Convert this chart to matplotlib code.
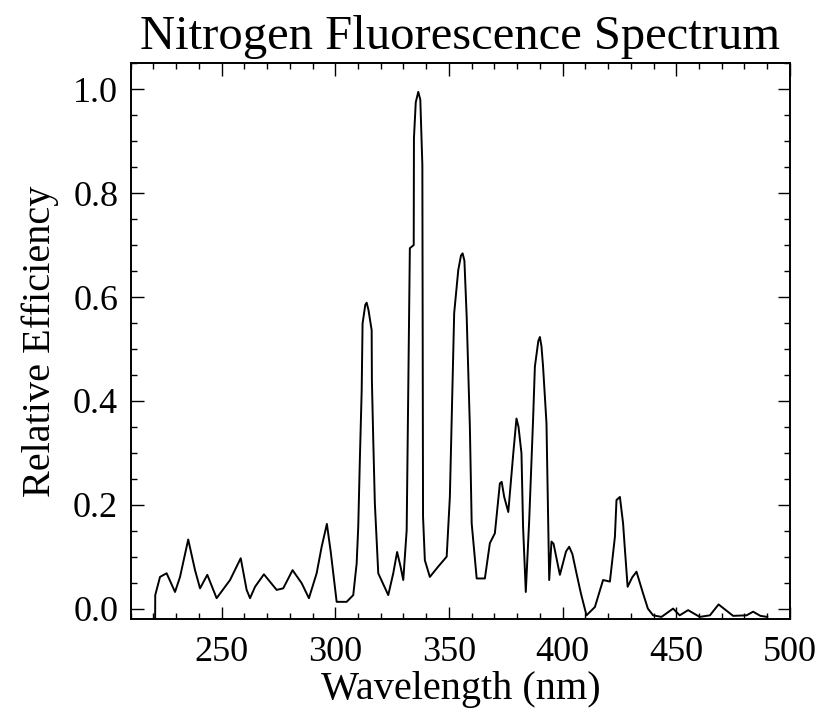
import matplotlib
matplotlib.use("Agg")
import matplotlib.pyplot as plt
from matplotlib.ticker import MultipleLocator

# values (wavelength in nm, relative efficiency)
wavelength = [
    220.7, 220.8, 222.9, 225.8, 229.5, 231.7, 235.3, 238.3, 240.5, 243.7,
    247.8, 253.7, 258.4, 261.0, 262.5, 264.7, 268.6, 274.2, 277.1, 281.2,
    285.2, 288.4, 291.8, 294.0, 296.3, 298.0, 300.6, 305.0, 307.9, 309.4,
    310.1, 310.8, 311.6, 312.0, 313.2, 313.8, 314.6, 316.0, 316.1, 316.7,
    317.4, 318.9, 323.3, 325.5, 327.2, 328.7, 329.9, 331.4, 332.1, 332.8,
    334.5, 334.6, 335.4, 336.5, 337.4, 338.3, 338.6, 339.4, 341.6, 345.3,
    349.0, 350.4, 351.9, 352.3, 354.1, 355.3, 356.0, 356.8, 357.8, 359.2,
    360.0, 362.2, 365.8, 368.0, 370.2, 372.4, 373.2, 374.3, 376.1, 378.3,
    379.7, 380.6, 381.9, 382.6, 383.8, 385.3, 387.0, 387.8, 389.3, 390.0,
    390.7, 391.4, 392.9, 393.6, 394.1, 395.1, 396.0, 398.8, 401.5, 402.9,
    404.3, 406.1, 408.0, 410.5, 414.2, 417.8, 420.8, 423.0, 423.7, 425.2,
    426.6, 427.3, 428.6, 430.6, 432.5, 435.4, 437.5, 439.8, 443.5, 448.6,
    451.5, 455.2, 460.3, 464.8, 468.6, 475.0, 480.9, 483.8, 487.0, 490.0,
]
efficiency = [
    -0.05, 0.026, 0.061, 0.068, 0.032, 0.061, 0.133, 0.074, 0.039, 0.065,
    0.020, 0.055, 0.097, 0.036, 0.020, 0.042, 0.066, 0.036, 0.039, 0.074,
    0.049, 0.020, 0.068, 0.119, 0.163, 0.109, 0.013, 0.013, 0.026, 0.087,
    0.158, 0.286, 0.418, 0.549, 0.585, 0.589, 0.575, 0.536, 0.440, 0.325,
    0.203, 0.068, 0.026, 0.068, 0.109, 0.081, 0.055, 0.151, 0.421, 0.694,
    0.700, 0.906, 0.975, 0.995, 0.980, 0.854, 0.177, 0.093, 0.061, 0.081,
    0.100, 0.215, 0.498, 0.569, 0.652, 0.680, 0.684, 0.670, 0.562, 0.350,
    0.164, 0.058, 0.058, 0.126, 0.145, 0.241, 0.244, 0.215, 0.186, 0.299,
    0.366, 0.350, 0.299, 0.158, 0.032, 0.170, 0.363, 0.466, 0.515, 0.523,
    0.505, 0.466, 0.357, 0.183, 0.055, 0.129, 0.125, 0.065, 0.110, 0.119,
    0.105, 0.068, 0.030, -0.013, 0.003, 0.055, 0.052, 0.138, 0.209, 0.215,
    0.164, 0.120, 0.042, 0.060, 0.071, 0.029, 0.000, -0.013, -0.016, 0.000,
    -0.013, -0.003, -0.016, -0.013, 0.008, -0.014, -0.013, -0.006, -0.014, -0.016,
]

plt.rcParams["font.family"] = ["Liberation Serif", "DejaVu Serif"]

fig = plt.figure(figsize=(8.22, 7.22), dpi=100)
ax = fig.add_axes([0.159, 0.1427, 0.802, 0.7696])

ax.plot(wavelength, efficiency, color="black", linewidth=1.4)

ax.set_xlim(210, 500)
ax.set_ylim(-0.02, 1.05)
ax.xaxis.set_major_locator(MultipleLocator(50))
ax.xaxis.set_minor_locator(MultipleLocator(10))
ax.yaxis.set_major_locator(MultipleLocator(0.2))
ax.yaxis.set_minor_locator(MultipleLocator(0.05))
ax.yaxis.set_major_formatter(lambda v, p: f"{v:.1f}")

ax.tick_params(which="both", direction="in", top=True, right=True, width=1.0,
               labelsize=26)
ax.tick_params(which="major", length=9)
ax.tick_params(which="minor", length=4.5)
ax.tick_params(axis="x", pad=12)
ax.tick_params(axis="y", pad=9)
for s in ax.spines.values():
    s.set_linewidth(1.4)

ax.set_xlabel("Wavelength (nm)", fontsize=29, labelpad=2)
ax.set_ylabel("Relative Efficiency", fontsize=29, labelpad=10)
ax.set_title("Nitrogen Fluorescence Spectrum", fontsize=35, pad=10)

fig.savefig("out.png", dpi=100)
